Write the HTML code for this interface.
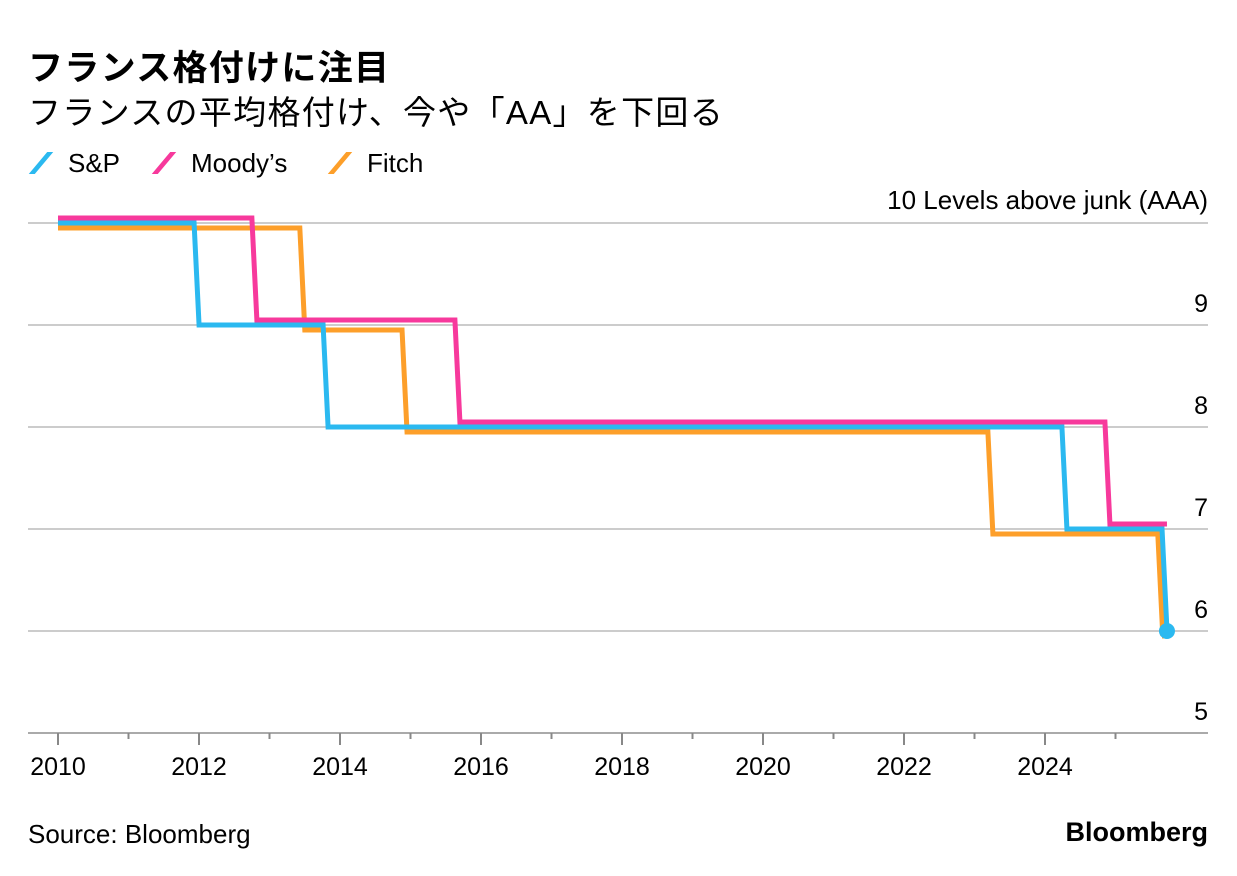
<!DOCTYPE html>
<html><head><meta charset="utf-8">
<style>
body{margin:0;background:#fff;width:1237px;height:876px;overflow:hidden;font-family:"Liberation Sans","Noto Sans CJK JP",sans-serif;color:#000}
.t{position:absolute;white-space:nowrap}
.sw{position:absolute;top:4px;width:6px;height:22px;transform:skew(-40deg)}
</style></head><body>
<div class="t" style="left:28px;top:40px;font-size:35px;font-weight:bold;letter-spacing:1.3px">フランス格付けに注目</div>
<div class="t" style="left:28px;top:86px;font-size:33px;letter-spacing:1.3px">フランスの平均格付け、今や「AA」を下回る</div>
<div class="t" style="left:30px;top:148px;font-size:26px"><span class="sw" style="left:8px;background:#2bb9f0"></span><span style="position:absolute;left:38px">S&amp;P</span></div>
<div class="t" style="left:153px;top:148px;font-size:26px"><span class="sw" style="left:8px;background:#f7399c"></span><span style="position:absolute;left:38px">Moody’s</span></div>
<div class="t" style="left:329px;top:148px;font-size:26px"><span class="sw" style="left:8px;background:#fd9f2a"></span><span style="position:absolute;left:38px">Fitch</span></div>
<svg id="chart" width="1237" height="876" style="position:absolute;left:0;top:0" font-family="Liberation Sans, sans-serif"></svg>
<div class="t" style="left:28px;top:819px;font-size:26px">Source: Bloomberg</div>
<div class="t" style="right:29px;top:817px;font-size:27px;font-weight:bold">Bloomberg</div>
<script>
const yTicks=[5,6,7,8,9,10];
const xTicks=[2010,2012,2014,2016,2018,2020,2022,2024];
const spDates=[2010,2011.93,2013.76,2024.24,2025.66,2025.73];
const spVals=[10,9,8,7,6,6];
const moodysDates=[2010,2012.75,2015.63,2024.85,2025.73];
const moodysVals=[10,9,8,7,7];
const fitchDates=[2010,2013.43,2014.88,2023.19,2025.60,2025.66];
const fitchVals=[10,9,8,7,6,6];
const ns="http://www.w3.org/2000/svg";
const svg=document.getElementById('chart');
const X=d=>58+(d-2010)*70.5;
const Y=v=>223+(10-v)*102;
function mk(t,a){const e=document.createElementNS(ns,t);for(const k in a)e.setAttribute(k,a[k]);svg.appendChild(e);return e;}
yTicks.forEach(v=>{
 const g=mk('line',{x1:28,x2:1208,y1:Y(v),y2:Y(v),stroke:v==5?'#aaa':'#ccc','stroke-width':2});
 
 
 if(v<10){const t=mk('text',{x:1208,y:Y(v)-13,'text-anchor':'end','font-size':25});t.textContent=v;
 
 }
});
const yt=mk('text',{x:1208,y:Y(10)-14,'text-anchor':'end','font-size':26});yt.textContent='10 Levels above junk (AAA)';


for(let yr=2010;yr<=2025;yr++){
 const major=yr%2==0;
 const l=mk('line',{x1:X(yr),x2:X(yr),y1:Y(5),y2:Y(5)+(major?12:6),stroke:'#888','stroke-width':2});
 
 
}
xTicks.forEach(yr=>{const t=mk('text',{x:X(yr),y:775,'text-anchor':'middle','font-size':25});t.textContent=yr;
 
 });
function series(dates,vals,color,off,name){
 let d='M'+X(dates[0])+','+(Y(vals[0])+off);
 for(let i=1;i<dates.length;i++){
  d+=' L'+X(dates[i])+','+(Y(vals[i-1])+off);
  if(vals[i]!==vals[i-1]) d+=' L'+(X(dates[i])+5)+','+(Y(vals[i])+off);
 }
 const p=mk('path',{d:d,fill:'none',stroke:color,'stroke-width':5,'stroke-linejoin':'miter'});
 
 
}
series(fitchDates,fitchVals,'#fd9f2a',5,'fitch-line');
series(moodysDates,moodysVals,'#f7399c',-5,'moodys-line');
series(spDates,spVals,'#2bb9f0',0,'sp-line');
const c=mk('circle',{cx:X(spDates[spDates.length-1]),cy:Y(spVals[spVals.length-1]),r:8,fill:'#2bb9f0'});


</script>
</body></html>
